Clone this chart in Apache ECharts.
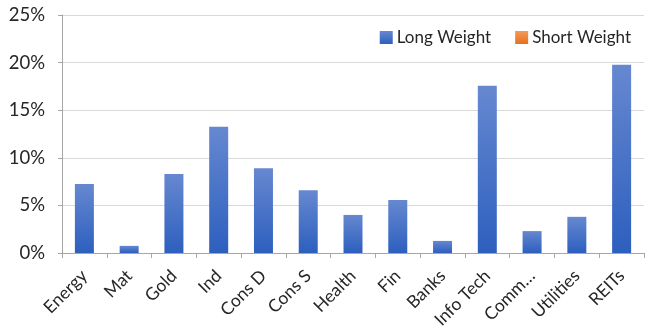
<!DOCTYPE html>
<html>
<head>
<meta charset="utf-8">
<script src="https://cdn.jsdelivr.net/npm/echarts@6/dist/echarts.min.js"></script>
<style>
html,body{margin:0;padding:0;background:#fff;}
#c{width:646px;height:327px;}
</style>
</head>
<body>
<div id="c"></div>
<script>
var categories = ["Energy","Mat","Gold","Ind","Cons D","Cons S","Health","Fin","Banks","Info Tech","Comm…","Utilities","REITs"];
var longWeight = [7.25, 0.75, 8.3, 13.27, 8.9, 6.6, 4.0, 5.57, 1.27, 17.57, 2.3, 3.8, 19.78];
var shortWeight = [null, null, null, null, null, null, null, null, null, null, null, null, null];
var yTicks = [0, 5, 10, 15, 20, 25];

var FONT = "Lato";
var chart = echarts.init(document.getElementById('c'), null, {renderer:'canvas'});
var blueGrad = new echarts.graphic.LinearGradient(0,0,0,1,[{offset:0,color:'#6688d0'},{offset:1,color:'#2d5fbe'}]);
var orangeGrad = new echarts.graphic.LinearGradient(0,0,0,1,[{offset:0,color:'#f39a5a'},{offset:1,color:'#e8701f'}]);
chart.setOption({
  animation:false,
  textStyle:{fontFamily:FONT},
  grid:{left:62,right:2,top:15,bottom:74,containLabel:false,outerBoundsMode:'none'},
  legend:{
    right:10, top:24, itemWidth:13, itemHeight:13, itemGap:24,
    textStyle:{fontFamily:FONT,fontSize:17,color:'#262626',padding:[0,0,0,-1]},
    data:[{name:'Long Weight',icon:'rect',itemStyle:{color:blueGrad}},{name:'Short Weight',icon:'rect',itemStyle:{color:orangeGrad}}]
  },
  xAxis:{
    type:'category', data:categories,
    axisLine:{lineStyle:{color:'#a6a6a6',width:1}},
    axisTick:{show:true,alignWithLabel:false,length:5,lineStyle:{color:'#a6a6a6'}},
    axisLabel:{rotate:45,interval:0,fontFamily:FONT,fontSize:17.5,color:'#262626',margin:20}
  },
  yAxis:{
    type:'value', min:yTicks[0], max:yTicks[yTicks.length-1], interval:5,
    axisLine:{show:true,lineStyle:{color:'#a6a6a6'}},
    axisTick:{show:true,length:4,lineStyle:{color:'#a6a6a6'}},
    splitLine:{lineStyle:{color:'#d9d9d9'}},
    axisLabel:{formatter:function(v){return v+'%';},fontFamily:FONT,fontSize:18.5,color:'#262626',margin:17}
  },
  series:[
    {name:'Long Weight',type:'bar',data:longWeight,barWidth:19,barGap:'-100%',itemStyle:{color:blueGrad}},
    {name:'Short Weight',type:'bar',data:shortWeight,barWidth:19,itemStyle:{color:orangeGrad}}
  ]
});
</script>
</body>
</html>
